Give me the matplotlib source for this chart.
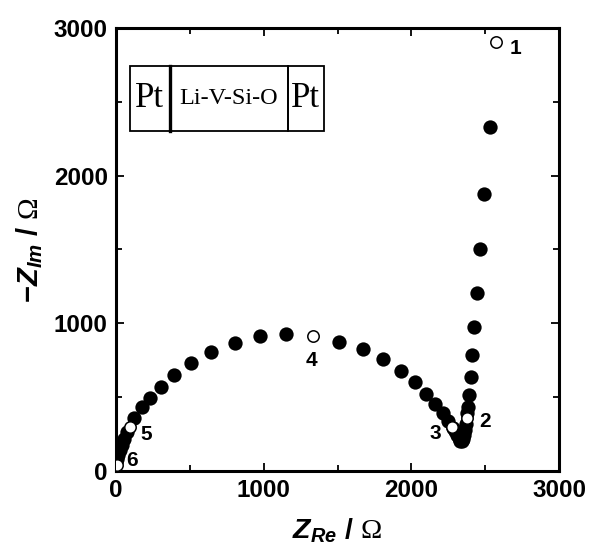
import matplotlib
matplotlib.use("Agg")
import matplotlib.pyplot as plt
from matplotlib.patches import Rectangle
from matplotlib.ticker import MultipleLocator

plt.rcParams['font.family'] = ['Liberation Sans', 'DejaVu Sans']
plt.rcParams['mathtext.fontset'] = 'custom'
plt.rcParams['mathtext.bf'] = 'Liberation Sans:bold'
plt.rcParams['mathtext.bfit'] = 'Liberation Sans:italic:bold'
plt.rcParams['mathtext.rm'] = 'Liberation Serif'
plt.rcParams['mathtext.it'] = 'Liberation Sans:italic'

# Filled data points (Z_Re, -Z_Im) in Ohm
z_re = [2532, 2494, 2467, 2442, 2426, 2413, 2401, 2392, 2383, 2377,
        2372, 2366, 2358, 2349, 2340, 2332, 2322, 2310, 2296, 2282,
        2250, 2212, 2160, 2099, 2024, 1927, 1805, 1670, 1512,
        1151, 975, 808, 645, 508, 395, 305, 233, 174, 120,
        75, 55, 38, 26, 16, 8, 2]
z_im = [2331, 1873, 1505, 1207, 973, 785, 634, 515, 431, 390,
        320, 280, 245, 215, 200, 205, 222, 245, 268, 290,
        341, 391, 454, 521, 600, 679, 756, 824, 876,
        925, 914, 869, 808, 733, 652, 571, 497, 430, 362,
        262, 215, 176, 140, 108, 78, 60]

# Open (labelled) points
open_re = [2571, 2379, 2273, 1336, 95, 5]
open_im = [2903, 357, 296, 914, 297, 43]
open_labels = ['1', '2', '3', '4', '5', '6']
label_re = [2708, 2498, 2160, 1325, 208, 110]
label_im = [2864, 334, 255, 745, 244, 68]

x_ticks = [0, 1000, 2000, 3000]
y_ticks = [0, 1000, 2000, 3000]

fig = plt.figure(figsize=(5.90, 5.51), dpi=100)
ax = fig.add_axes([0.1966, 0.1452, 0.7509, 0.804])

ax.plot(z_re, z_im, 'o', color='black', markersize=10.3, markeredgewidth=0, zorder=3)
ax.plot(open_re, open_im, 'o', markerfacecolor='white', markeredgecolor='black',
        markersize=8.2, markeredgewidth=1.1, zorder=4)
for lab, lx, ly in zip(open_labels, label_re, label_im):
    ax.text(lx, ly, lab, fontsize=15, fontweight='bold', ha='center', va='center', zorder=5)

ax.set_xlim(0, 3000)
ax.set_ylim(0, 3000)
ax.set_xticks(x_ticks)
ax.set_yticks(y_ticks)
ax.xaxis.set_minor_locator(MultipleLocator(500))
ax.yaxis.set_minor_locator(MultipleLocator(500))
ax.tick_params(which='both', direction='in', top=True, right=True, width=1.3)
ax.tick_params(which='major', length=6, pad=6)
ax.tick_params(which='minor', length=4)
for lbl in ax.get_xticklabels() + ax.get_yticklabels():
    lbl.set_fontweight('bold')
    lbl.set_fontsize(17.5)
for sp in ax.spines.values():
    sp.set_linewidth(2.2)

ax.set_xlabel(r'$\mathbfit{Z}_{\mathbfit{Re}}\ \mathbf{/}\ \mathrm{Ω}$', fontsize=20.5, labelpad=10)
ax.set_ylabel(r'$\mathbf{-}\mathbfit{Z}_{\mathbfit{Im}}\ \mathbf{/}\ \mathrm{Ω}$', fontsize=21, labelpad=6)

# Cell schematic box
tr = ax.transAxes
y0, y1 = 0.7675, 0.914
xs = [0.0316, 0.1219, 0.388, 0.4695]
for a, b in zip(xs[:-1], xs[1:]):
    ax.add_patch(Rectangle((a, y0), b - a, y1 - y0, transform=tr, fill=False,
                           edgecolor='black', linewidth=1.3, zorder=6))
ax.plot([xs[1], xs[1]], [y0, y1], transform=tr, color='black', linewidth=2.4, zorder=7)
ax.text((xs[0] + xs[1]) / 2, (y0 + y1) / 2, 'Pt', transform=tr, fontsize=25,
        family='Liberation Serif', ha='center', va='center')
ax.text((xs[1] + xs[2]) / 2, (y0 + y1) / 2, 'Li-V-Si-O', transform=tr, fontsize=17.5,
        family='Liberation Serif', ha='center', va='center')
ax.text((xs[2] + xs[3]) / 2, (y0 + y1) / 2, 'Pt', transform=tr, fontsize=25,
        family='Liberation Serif', ha='center', va='center')

fig.savefig('out.png', dpi=100)
